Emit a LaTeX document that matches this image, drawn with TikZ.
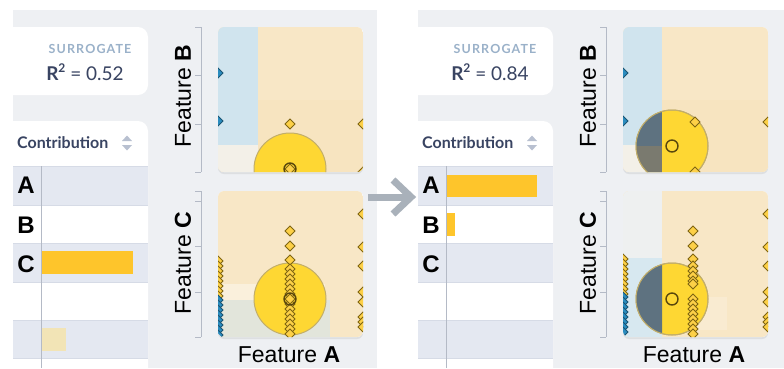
\documentclass[tikz,border=0pt]{standalone}
\usepackage{fontspec}
\setmainfont{Liberation Sans}
\newfontfamily\lato{Lato}
\newfontfamily\latosp[LetterSpace=9]{Lato}
\usetikzlibrary{shadows}
\definecolor{panel}{HTML}{EEF0F3}
\definecolor{rowbg}{HTML}{E4E8F1}
\definecolor{rowline}{HTML}{D6DBE6}
\definecolor{tick}{HTML}{B4BAC6}
\definecolor{navy}{HTML}{394462}
\definecolor{surr}{HTML}{9AB1C9}
\definecolor{sortc}{HTML}{B8C0D0}
\definecolor{bar}{HTML}{FEC52B}
\definecolor{barpale}{HTML}{F2E4B6}
\definecolor{skyb}{HTML}{D0E4EE}
\definecolor{sand}{HTML}{F8E7C6}
\definecolor{sandd}{HTML}{F7E4C0}
\definecolor{cream}{HTML}{F3F0E8}
\definecolor{haze}{HTML}{EEF0F0}
\definecolor{sunc}{HTML}{FED733}
\definecolor{sunedge}{HTML}{C2AE6A}
\definecolor{mark}{HTML}{FDD047}
\definecolor{markedge}{HTML}{7F6512}
\definecolor{bluemark}{HTML}{2A8CBF}
\definecolor{slate}{HTML}{5E7280}
\definecolor{olive}{HTML}{7A7A6F}
\definecolor{arrowgray}{HTML}{A9B1BA}
\newcommand\dmd[3][ydia]{\path[#1] (#2,#3) +(0,-5) -- +(5,0) -- +(0,5) -- +(-5,0) -- cycle;}

\begin{document}
\begin{tikzpicture}[x=1pt, y=-1pt,
  feat/.style = {font=\fontsize{23}{26}\selectfont, text=black, inner sep=0pt},
  letter/.style = {font=\fontsize{24}{26}\selectfont\bfseries, inner sep=0pt},
  surtxt/.style = {font=\latosp\fontsize{12.5}{14}\selectfont\bfseries, text=surr},
  r2txt/.style = {font=\lato\fontsize{19}{22}\selectfont, text=navy},
  head/.style = {font=\lato\fontsize{16}{18}\selectfont\bfseries, text=navy, anchor=west, inner sep=0pt},
  axis/.style = {draw=tick, line width=1pt},
  ydia/.style = {fill=mark, draw=markedge, line width=.8pt},
  bdia/.style = {fill=bluemark, draw=bluemark!60!black, line width=.8pt},
  plotbox/.style = {fill=white, rounded corners=6pt, drop shadow={shadow xshift=0pt, shadow yshift=-2pt, opacity=.15}},
  sun/.style = {fill=sunc, draw=sunedge, line width=1pt},
  ring/.style = {draw=markedge!70!black, line width=1.4pt},
  flow/.style = {draw=arrowgray, line width=7pt, line join=miter}]
\useasboundingbox[fill=white] (0,0) rectangle (784,368);
\fill[panel] (13,10) rectangle (377,368);
\fill[panel] (418,10) rectangle (784,368);

\foreach \dx/\p/\rv in {0/L/0.52, 405/R/0.84} {
  \begin{scope}[xshift=\dx pt]
    \begin{scope}
      \clip (13,10) rectangle (379,368);
      \fill[white, rounded corners=10pt] (0,27) rectangle (148,95);
      \fill[white, rounded corners=10pt] (0,121) rectangle (148,390);
    \end{scope}
    \foreach \y in {166,243,320} {\fill[rowbg] (13,\y) rectangle (148,\y+38.5);}
    \foreach \y in {166,205,243,282,320,358} {\draw[rowline] (13,\y) -- (148,\y);}
    \draw[tick] (41,166) -- (41,368);
    \node[surtxt] (sur\p) at (90,49) {SURROGATE};
    \node[r2txt] (rsq\p) at (85,72) {{\bfseries R\raisebox{.42em}{\fontsize{12}{12}\selectfont 2}} = \rv};
    \node[head] (con\p) at (17,143) {Contribution};
    \fill[sortc] (122,141) -- (132,141) -- (127,135.5) -- cycle;
    \fill[sortc] (122,145) -- (132,145) -- (127,150.5) -- cycle;
    \node[letter] (a\p) at (26,185) {A};
    \node[letter] (b\p) at (26,225) {B};
    \node[letter] (c\p) at (26,264) {C};
    \draw[axis] (201,27) -- (201,172);
    \foreach \y in {27,75,124,172} {\draw[axis] (195,\y) -- (201,\y);}
    \draw[axis] (201,191) -- (201,337);
    \foreach \y in {191,201,246,292,337} {\draw[axis] (195,\y) -- (201,\y);}
    \node[feat, rotate=90] (fb\p) at (183,96) {Feature \textbf{B}};
    \node[feat, rotate=90] (fc\p) at (183,263) {Feature \textbf{C}};
    \node[feat] (fa\p) at (289,355) {Feature \textbf{A}};
    \path[plotbox] (218,27) rectangle (363,172);
    \path[plotbox] (218,191) rectangle (363,337);
  \end{scope}
}

\fill[bar] (42,251) rectangle (133,274);
\fill[barpale] (42,328) rectangle (66,351);
\fill[bar] (447,175) rectangle (537,197);
\fill[bar] (447,213) rectangle (455,236);

\begin{scope}
  \clip[rounded corners=6pt] (218,27) rectangle (363,172);
  \fill[sand] (218,27) rectangle (363,172);
  \fill[sandd] (258,100) rectangle (363,172);
  \fill[skyb] (218,27) rectangle (258,145);
  \fill[cream] (218,145) rectangle (258,172);
  \path[sun] (290,169) circle (36pt);
  \dmd{290}{124} \dmd{363}{124} \dmd{363}{172}
  \dmd[bdia]{218}{73} \dmd[bdia]{218}{121}
  \dmd{290}{169}
  \draw[ring] (290,169) circle (6pt);
\end{scope}

\begin{scope}
  \clip[rounded corners=6pt] (218,191) rectangle (363,337);
  \fill[sand] (218,191) rectangle (363,337);
  \fill[white, opacity=.4] (218,284) rectangle (325,300);
  \fill[skyb, opacity=.55] (218,300) rectangle (330,337);
  \path[sun] (290,299) circle (36pt);
  \foreach \y in {231,246,260,269,274,279,284,289,294,304,309,314,319,324,329,334} {\dmd{290}{\y}}
  \foreach \y in {214,247,266,292,302,317,322,327} {\dmd{363}{\y}}
  \foreach \y in {261,266,...,296} {\dmd{218}{\y}}
  \foreach \y in {300,305,...,335} {\dmd[bdia]{218}{\y}}
  \dmd{290}{299}
  \draw[ring] (290,299) circle (6pt);
\end{scope}

\begin{scope}
  \clip[rounded corners=6pt] (623,27) rectangle (768,172);
  \fill[sand] (623,27) rectangle (768,172);
  \fill[sandd] (662,100) rectangle (768,172);
  \fill[skyb] (623,27) rectangle (662,145);
  \fill[cream] (623,145) rectangle (662,172);
  \path[sun] (672,146) circle (36pt);
  \begin{scope}
    \clip (600,0) rectangle (662,400);
    \clip (672,146) circle (36pt);
    \fill[slate] (600,0) rectangle (662,146);
    \fill[olive] (600,146) rectangle (662,200);
  \end{scope}
  \draw[sunedge, line width=1pt] (672,146) circle (36pt);
  \dmd{695}{122} \dmd{695}{172} \dmd{768}{122}
  \dmd[bdia]{623}{73} \dmd[bdia]{623}{121}
  \draw[ring] (672,146) circle (6pt);
\end{scope}

\begin{scope}
  \clip[rounded corners=6pt] (623,191) rectangle (768,337);
  \fill[sand] (623,191) rectangle (768,337);
  \fill[haze] (623,191) rectangle (662,258);
  \fill[skyb!85!white] (623,258) rectangle (662,337);
  \fill[white, opacity=.2] (662,297) rectangle (727,330);
  \path[sun] (672,299) circle (36pt);
  \begin{scope}
    \clip (600,0) rectangle (662,400);
    \fill[slate] (672,299) circle (36pt);
  \end{scope}
  \draw[sunedge, line width=1pt] (672,299) circle (36pt);
  \foreach \y in {231,246,259,266,271,276,281,284,299,304,309,314,319,324,329,334} {\dmd{693}{\y}}
  \foreach \y in {214,247,266,292,302,317,322,327} {\dmd{768}{\y}}
  \foreach \y in {259,264,...,294} {\dmd{623}{\y}}
  \foreach \y in {297,302,...,334} {\dmd[bdia]{623}{\y}}
  \draw[ring] (672,299) circle (6pt);
\end{scope}

\coordinate (arrS) at (368,197);
\coordinate (arrE) at (411,197);
\draw[flow] (arrS) -- (arrE);
\draw[flow] (arrE) ++(-18,-17) -- (arrE) -- ++(-18,17);
\end{tikzpicture}
\end{document}
